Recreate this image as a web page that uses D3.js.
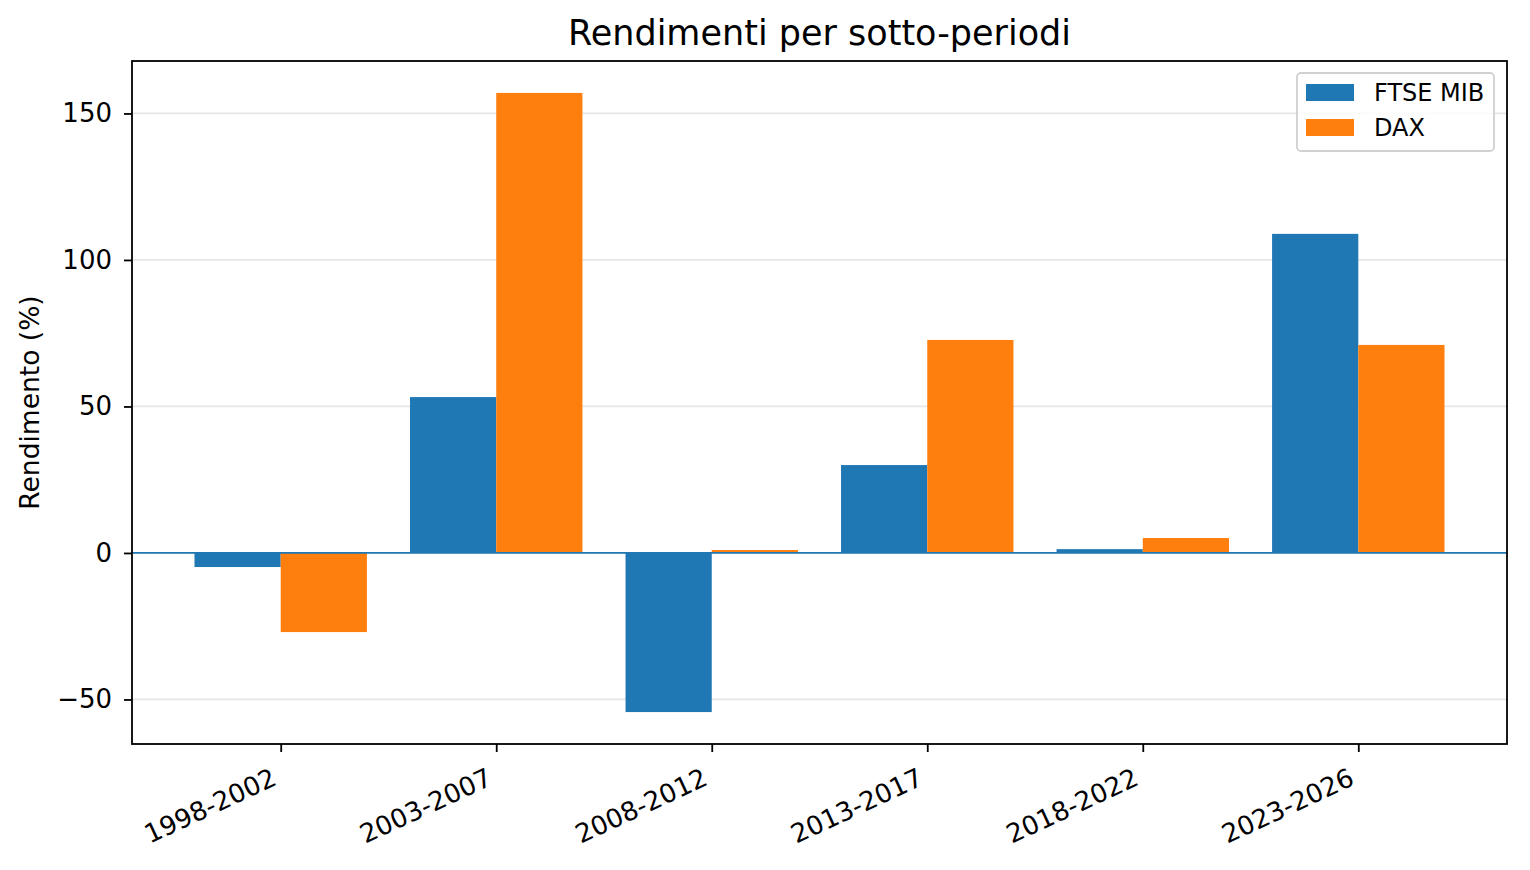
<!DOCTYPE html>
<html>
<head>
<meta charset="utf-8">
<script src="https://cdn.jsdelivr.net/npm/d3@7"></script>
<style>
  body { margin: 0; background: #fff; }
  text { font-family: "DejaVu Sans", sans-serif; fill: #000; }
</style>
</head>
<body>
<script>
// periods and returns (%)
var periods = ["1998-2002", "2003-2007", "2008-2012", "2013-2017", "2018-2022", "2023-2026"]
var ftseMib = [-4.8, 53.2, -54.3, 30.0, 1.3, 108.9]
var dax = [-27.0, 157.0, 1.0, 72.7, 5.1, 71.0]
var seriesNames = ["FTSE MIB", "DAX"]
var seriesColors = ["#1f77b4", "#ff7f0e"]
var yTicks = [-50, 0, 50, 100, 150]

var W = 1530, H = 870
var plotL = 132, plotR = 1507, plotT = 61, plotB = 744

var svg = d3.select("body").append("svg").attr("width", W).attr("height", H)

// x in "category units" like matplotlib, bars 0.4 wide each side of center
var x = d3.scaleLinear().domain([-0.69, periods.length - 1 + 0.69]).range([plotL, plotR])
var y = d3.scaleLinear().domain([-65.2, 167.9]).range([plotB, plotT])
var barW = 0.4

// grid
svg.append("g").selectAll("line")
    .data(yTicks)
    .enter().append("line")
    .attr("x1", plotL).attr("x2", plotR)
    .attr("y1", function(d){return y(d)}).attr("y2", function(d){return y(d)})
    .attr("stroke", "#e6e6e6").attr("stroke-width", 1.8)

var series = [ftseMib, dax]
series.forEach(function(vals, s){
  svg.append("g").selectAll("rect")
    .data(vals)
    .enter().append("rect")
    .attr("x", function(d, i){return x(i + (s === 0 ? -barW : 0))})
    .attr("width", x(barW) - x(0))
    .attr("y", function(d){return y(Math.max(0, d))})
    .attr("height", function(d){return Math.abs(y(d) - y(0))})
    .attr("fill", seriesColors[s])
})

// zero line
svg.append("line")
    .attr("x1", plotL).attr("x2", plotR)
    .attr("y1", y(0)).attr("y2", y(0))
    .attr("stroke", "#1f77b4").attr("stroke-width", 1.8)

// frame
svg.append("rect")
    .attr("x", plotL).attr("y", plotT)
    .attr("width", plotR - plotL).attr("height", plotB - plotT)
    .attr("fill", "none").attr("stroke", "#000").attr("stroke-width", 1.8)

// y axis
var yAxis = d3.axisLeft(y).tickValues(yTicks).tickSize(8).tickPadding(12)
    .tickFormat(function(d){return d < 0 ? "\u2212" + Math.abs(d) : d})
var gy = svg.append("g").attr("transform", "translate(" + plotL + ",0)").call(yAxis)
gy.select(".domain").remove()
gy.selectAll("line").attr("stroke-width", 1.8)
gy.selectAll("text").style("font-size", "26px").style("font-family", "DejaVu Sans")

// x axis, labels rotated 25deg and right-aligned on the tick
var xAxis = d3.axisBottom(x).tickValues(d3.range(periods.length)).tickSize(8)
    .tickFormat(function(d){return periods[d]})
var gx = svg.append("g").attr("transform", "translate(0," + plotB + ")").call(xAxis)
gx.select(".domain").remove()
gx.selectAll("line").attr("stroke-width", 1.8)
gx.selectAll("text")
    .style("font-size", "26px").style("font-family", "DejaVu Sans")
    .attr("text-anchor", "end")
    .attr("x", 0).attr("y", 0)
    .attr("dy", "0.72em")
    .attr("transform", "translate(-11,23) rotate(-25)")

// labels
svg.append("text").attr("x", (plotL + plotR) / 2).attr("y", 45)
    .attr("text-anchor", "middle").style("font-size", "35px")
    .text("Rendimenti per sotto-periodi")

svg.append("text")
    .attr("transform", "translate(39," + ((plotT + plotB) / 2) + ") rotate(-90)")
    .attr("text-anchor", "middle").style("font-size", "26.5px")
    .text("Rendimento (%)")

// legend
var lg = svg.append("g")
lg.append("rect").attr("x", 1297).attr("y", 73).attr("width", 197).attr("height", 78)
    .attr("rx", 4).attr("fill", "#fff").attr("fill-opacity", 0.8)
    .attr("stroke", "#d0d0d0").attr("stroke-width", 1.8)
var items = lg.selectAll("g.item").data(seriesNames).enter().append("g")
    .attr("transform", function(d, i){return "translate(1306," + (84 + i * 35) + ")"})
items.append("rect").attr("width", 48).attr("height", 17)
    .attr("fill", function(d, i){return seriesColors[i]})
items.append("text").attr("x", 68).attr("y", 17).style("font-size", "24px")
    .text(function(d){return d})
</script>
</body>
</html>
